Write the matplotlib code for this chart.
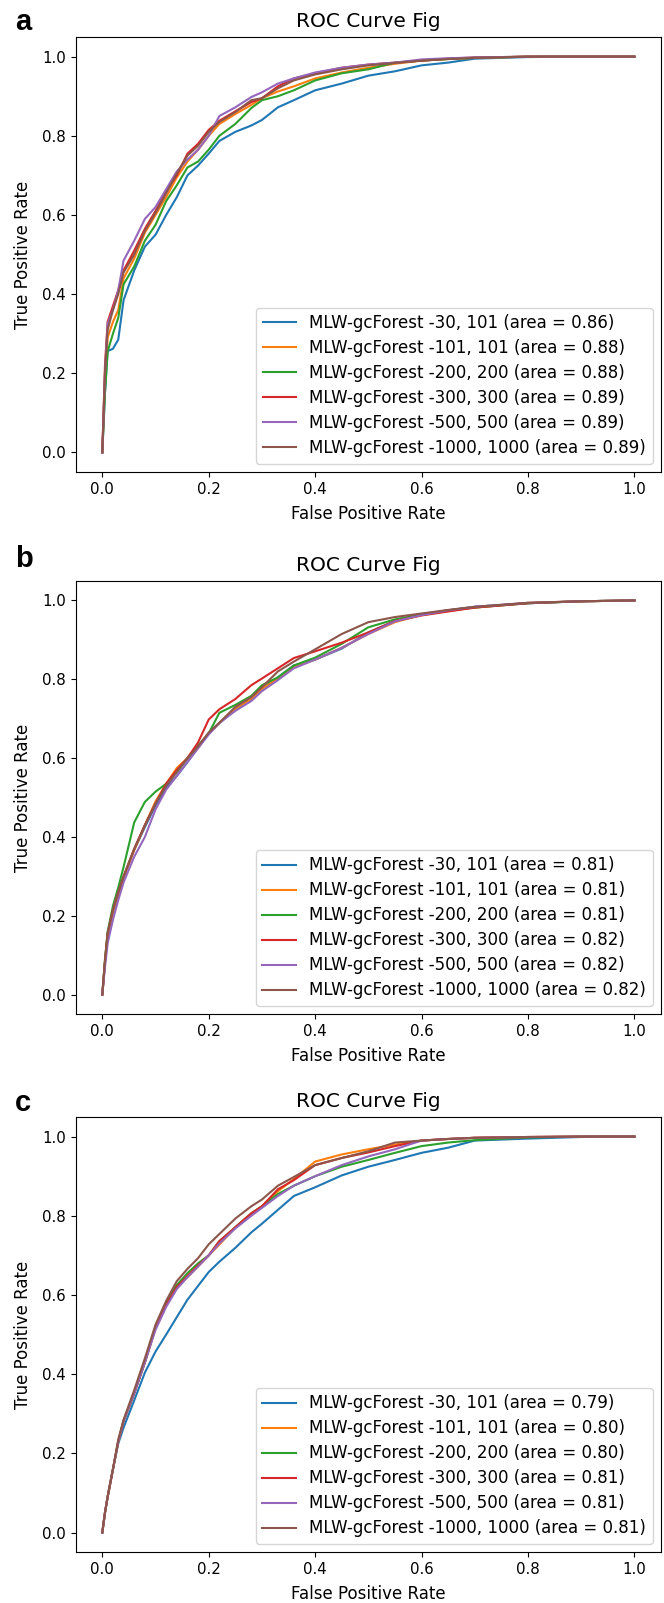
import matplotlib
matplotlib.use("Agg")
import matplotlib.pyplot as plt

# shared false positive rate grid for all curves
fpr = [0, 0.005, 0.01, 0.02, 0.03, 0.04, 0.06, 0.08, 0.10, 0.12, 0.14, 0.16,
       0.18, 0.20, 0.22, 0.25, 0.28, 0.30, 0.33, 0.36, 0.40, 0.45, 0.50, 0.55,
       0.60, 0.65, 0.70, 0.80, 0.90, 1.0]

names = ["MLW-gcForest -30, 101", "MLW-gcForest -101, 101",
         "MLW-gcForest -200, 200", "MLW-gcForest -300, 300",
         "MLW-gcForest -500, 500", "MLW-gcForest -1000, 1000"]

# panel a
a_30 = [0, 0.15, 0.256, 0.262, 0.285, 0.385, 0.46, 0.52, 0.55, 0.60, 0.645, 0.70,
        0.725, 0.755, 0.787, 0.81, 0.826, 0.84, 0.872, 0.89, 0.915, 0.932, 0.952, 0.963,
        0.978, 0.985, 0.995, 0.999, 1.0, 1.0]
a_101 = [0, 0.18, 0.29, 0.33, 0.36, 0.44, 0.49, 0.555, 0.60, 0.645, 0.695, 0.735,
         0.765, 0.80, 0.83, 0.855, 0.878, 0.895, 0.912, 0.925, 0.945, 0.96, 0.972, 0.982,
         0.99, 0.994, 0.997, 1.0, 1.0, 1.0]
a_200 = [0, 0.15, 0.255, 0.30, 0.34, 0.425, 0.47, 0.535, 0.575, 0.635, 0.675, 0.72,
         0.735, 0.765, 0.80, 0.83, 0.87, 0.89, 0.90, 0.915, 0.94, 0.958, 0.968, 0.985,
         0.99, 0.994, 0.997, 1.0, 1.0, 1.0]
a_300 = [0, 0.22, 0.33, 0.37, 0.41, 0.46, 0.51, 0.565, 0.61, 0.66, 0.70, 0.755,
         0.78, 0.815, 0.838, 0.862, 0.885, 0.895, 0.925, 0.945, 0.958, 0.972, 0.98, 0.985,
         0.99, 0.995, 0.998, 1.0, 1.0, 1.0]
a_500 = [0, 0.20, 0.325, 0.36, 0.41, 0.485, 0.535, 0.59, 0.62, 0.665, 0.71, 0.74,
         0.765, 0.80, 0.85, 0.872, 0.898, 0.91, 0.932, 0.945, 0.96, 0.972, 0.98, 0.985,
         0.993, 0.996, 0.998, 1.0, 1.0, 1.0]
a_1000 = [0, 0.20, 0.31, 0.36, 0.40, 0.455, 0.50, 0.56, 0.605, 0.655, 0.705, 0.75,
          0.775, 0.81, 0.835, 0.86, 0.89, 0.895, 0.92, 0.94, 0.955, 0.968, 0.978, 0.984,
          0.99, 0.994, 0.997, 1.0, 1.0, 1.0]
a_auc = [0.86, 0.88, 0.88, 0.89, 0.89, 0.89]

# panel b
b_30 = [0, 0.08, 0.15, 0.21, 0.255, 0.298, 0.367, 0.425, 0.48, 0.525, 0.555, 0.59,
        0.628, 0.663, 0.689, 0.724, 0.75, 0.776, 0.805, 0.835, 0.85, 0.878, 0.919, 0.948,
        0.965, 0.975, 0.984, 0.993, 0.998, 1.0]
b_101 = [0, 0.08, 0.15, 0.21, 0.255, 0.298, 0.367, 0.43, 0.49, 0.535, 0.575, 0.60,
         0.628, 0.663, 0.689, 0.724, 0.75, 0.776, 0.802, 0.832, 0.85, 0.88, 0.915, 0.945,
         0.963, 0.973, 0.982, 0.994, 0.998, 1.0]
b_200 = [0, 0.09, 0.16, 0.225, 0.272, 0.324, 0.437, 0.489, 0.515, 0.535, 0.565, 0.60,
         0.632, 0.663, 0.715, 0.735, 0.758, 0.785, 0.805, 0.835, 0.855, 0.89, 0.932, 0.952,
         0.965, 0.975, 0.982, 0.993, 0.998, 1.0]
b_300 = [0, 0.085, 0.155, 0.215, 0.26, 0.30, 0.37, 0.43, 0.485, 0.535, 0.57, 0.60,
         0.64, 0.698, 0.724, 0.75, 0.785, 0.802, 0.828, 0.854, 0.871, 0.893, 0.919, 0.948,
         0.962, 0.972, 0.982, 0.993, 0.998, 1.0]
b_500 = [0, 0.07, 0.13, 0.19, 0.24, 0.285, 0.35, 0.40, 0.47, 0.52, 0.555, 0.59,
         0.625, 0.66, 0.689, 0.72, 0.745, 0.77, 0.798, 0.828, 0.85, 0.88, 0.915, 0.947,
         0.963, 0.975, 0.984, 0.994, 0.998, 1.0]
b_1000 = [0, 0.085, 0.155, 0.215, 0.26, 0.30, 0.37, 0.43, 0.485, 0.53, 0.565, 0.60,
          0.63, 0.665, 0.69, 0.73, 0.755, 0.78, 0.82, 0.845, 0.876, 0.915, 0.945, 0.958,
          0.967, 0.976, 0.984, 0.994, 0.998, 1.0]
b_auc = [0.81, 0.81, 0.81, 0.82, 0.82, 0.82]

# panel c
c_30 = [0, 0.05, 0.09, 0.16, 0.225, 0.265, 0.334, 0.404, 0.457, 0.50, 0.544, 0.588,
        0.623, 0.658, 0.684, 0.719, 0.758, 0.78, 0.815, 0.85, 0.872, 0.902, 0.924, 0.941,
        0.959, 0.972, 0.99, 0.995, 0.999, 1.0]
c_101 = [0, 0.05, 0.09, 0.16, 0.23, 0.282, 0.352, 0.43, 0.515, 0.575, 0.62, 0.645,
         0.672, 0.70, 0.727, 0.771, 0.806, 0.824, 0.862, 0.893, 0.937, 0.955, 0.968, 0.98,
         0.99, 0.994, 0.997, 0.999, 1.0, 1.0]
c_200 = [0, 0.05, 0.09, 0.16, 0.23, 0.282, 0.352, 0.43, 0.52, 0.58, 0.625, 0.655,
         0.68, 0.70, 0.736, 0.771, 0.806, 0.824, 0.855, 0.876, 0.90, 0.924, 0.941, 0.959,
         0.976, 0.985, 0.991, 0.998, 1.0, 1.0]
c_300 = [0, 0.05, 0.09, 0.16, 0.23, 0.282, 0.352, 0.43, 0.518, 0.575, 0.62, 0.648,
         0.675, 0.70, 0.736, 0.771, 0.806, 0.824, 0.867, 0.89, 0.928, 0.946, 0.96, 0.976,
         0.99, 0.994, 0.997, 0.999, 1.0, 1.0]
c_500 = [0, 0.05, 0.09, 0.16, 0.23, 0.282, 0.352, 0.43, 0.512, 0.57, 0.615, 0.645,
         0.672, 0.70, 0.73, 0.768, 0.80, 0.82, 0.85, 0.876, 0.90, 0.928, 0.95, 0.968,
         0.99, 0.994, 0.997, 0.999, 1.0, 1.0]
c_1000 = [0, 0.05, 0.09, 0.16, 0.235, 0.285, 0.36, 0.44, 0.525, 0.585, 0.635, 0.666,
          0.693, 0.728, 0.754, 0.793, 0.824, 0.841, 0.876, 0.898, 0.928, 0.946, 0.963, 0.985,
          0.99, 0.994, 0.997, 0.999, 1.0, 1.0]
c_auc = [0.79, 0.80, 0.80, 0.81, 0.81, 0.81]

panels = [("a", [a_30, a_101, a_200, a_300, a_500, a_1000], a_auc),
          ("b", [b_30, b_101, b_200, b_300, b_500, b_1000], b_auc),
          ("c", [c_30, c_101, c_200, c_300, c_500, c_1000], c_auc)]

W, H = 664, 1603
fig = plt.figure(figsize=(W / 100, H / 100), dpi=100)
# axes boxes in figure fractions: left, bottom, width, height
boxes = [(0.114, 0.7054, 0.8815, 0.2716),
         (0.114, 0.3672, 0.8815, 0.2705),
         (0.114, 0.0316, 0.8815, 0.2717)]
letter_base = [30, 567, 1111]  # baseline of panel letters, px from top

for (letter, curves, aucs), box, yb in zip(panels, boxes, letter_base):
    ax = fig.add_axes(box)
    for nm, tpr, auc in zip(names, curves, aucs):
        ax.plot(fpr, tpr, lw=1.5, label="%s (area = %0.2f)" % (nm, auc))
    ax.set_title("ROC Curve Fig", fontsize=14.5, pad=7)
    ax.set_xlabel("False Positive Rate", fontsize=12, labelpad=6)
    ax.set_ylabel("True Positive Rate", fontsize=12, labelpad=7)
    ax.tick_params(labelsize=10.8)
    ax.legend(loc="lower right", fontsize=12, labelspacing=0.42)
    # panel letter in the top-left corner
    fig.text(15 / W, 1 - yb / H, letter, fontsize=21,
             fontweight="bold", family="Liberation Sans", va="baseline")

fig.savefig("out.png", dpi=100)
